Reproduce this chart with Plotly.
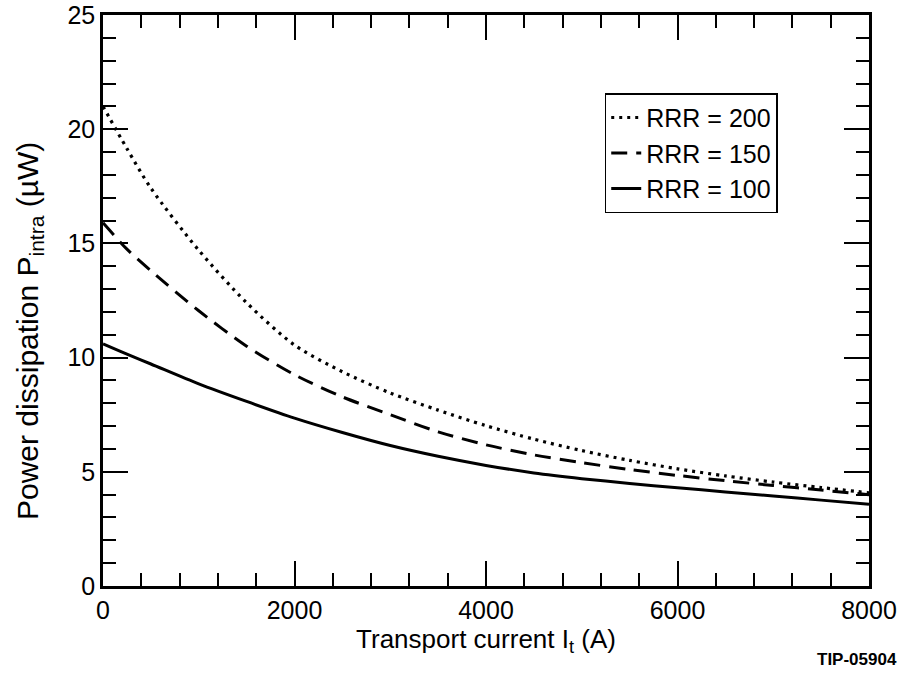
import plotly.graph_objects as go

current_A = [0, 250, 500, 1000, 1500, 2000, 2500, 3000, 3500, 4000, 4500, 5000, 5500, 6000, 6500, 7000, 7500, 8000]
p_rrr200 = [21.0, 19.15, 17.42, 14.7, 12.4, 10.55, 9.38, 8.45, 7.7, 7.02, 6.43, 5.93, 5.5, 5.13, 4.82, 4.55, 4.31, 4.08]
p_rrr150 = [15.9, 14.75, 13.8, 12.05, 10.5, 9.25, 8.28, 7.5, 6.75, 6.18, 5.74, 5.4, 5.1, 4.84, 4.61, 4.4, 4.2, 4.0]
p_rrr100 = [10.6, 10.15, 9.72, 8.85, 8.08, 7.35, 6.72, 6.15, 5.68, 5.28, 4.95, 4.7, 4.49, 4.3, 4.12, 3.94, 3.76, 3.58]
series_names = ["RRR = 200", "RRR = 150", "RRR = 100"]

FONT = "Liberation Sans, Arial, sans-serif"

fig = go.Figure()
styles = [dict(dash="3px,5px", width=3.2), dict(dash="16px,9px", width=3), dict(dash="solid", width=3)]
for name, ys, st in zip(series_names, [p_rrr200, p_rrr150, p_rrr100], styles):
    fig.add_trace(go.Scatter(x=current_A, y=ys, mode="lines", name=name,
                             line=dict(color="black", shape="spline", smoothing=0.8, **st)))

axis_common = dict(
    showgrid=False, zeroline=False, showline=True, linecolor="black", linewidth=2.5,
    mirror="ticks", ticks="inside", ticklen=25, tickwidth=2, tickcolor="black",
    tickfont=dict(family=FONT, size=25, color="black"), automargin=False,
)
fig.update_xaxes(range=[0, 8000], dtick=2000, tick0=0,
                 minor=dict(dtick=400, ticks="inside", ticklen=13, tickwidth=2, tickcolor="black"),
                 title=dict(text="Transport current I<sub>t</sub> (A)", font=dict(family=FONT, size=26, color="black"), standoff=6),
                 **axis_common)
fig.update_yaxes(range=[0, 25], dtick=5, tick0=0,
                 minor=dict(dtick=1, ticks="inside", ticklen=13, tickwidth=2, tickcolor="black"),
                 **axis_common)

fig.update_layout(
    width=899, height=675,
    margin=dict(l=103, r=30, t=15, b=89),
    plot_bgcolor="white", paper_bgcolor="white",
    font=dict(family=FONT, color="black"),
    legend=dict(x=0.655, y=0.863, xanchor="left", yanchor="top",
                bgcolor="white", bordercolor="black", borderwidth=1.5,
                font=dict(family=FONT, size=25, color="black"),
                tracegroupgap=0),
    annotations=[
        dict(text="Power dissipation P<sub>intra</sub> (µW)", textangle=-90,
             x=0, xref="paper", xshift=-74, xanchor="center",
             y=(586 - 331) / 571, yref="paper", yanchor="middle",
             showarrow=False, font=dict(family=FONT, size=30, color="black")),
        dict(text="<b>TIP-05904</b>", x=1, y=0, xref="paper", yref="paper",
             xanchor="right", yanchor="top", xshift=30, yshift=-62, showarrow=False,
             font=dict(family=FONT, size=17, color="black")),
    ],
)

fig.write_html("out.html")
